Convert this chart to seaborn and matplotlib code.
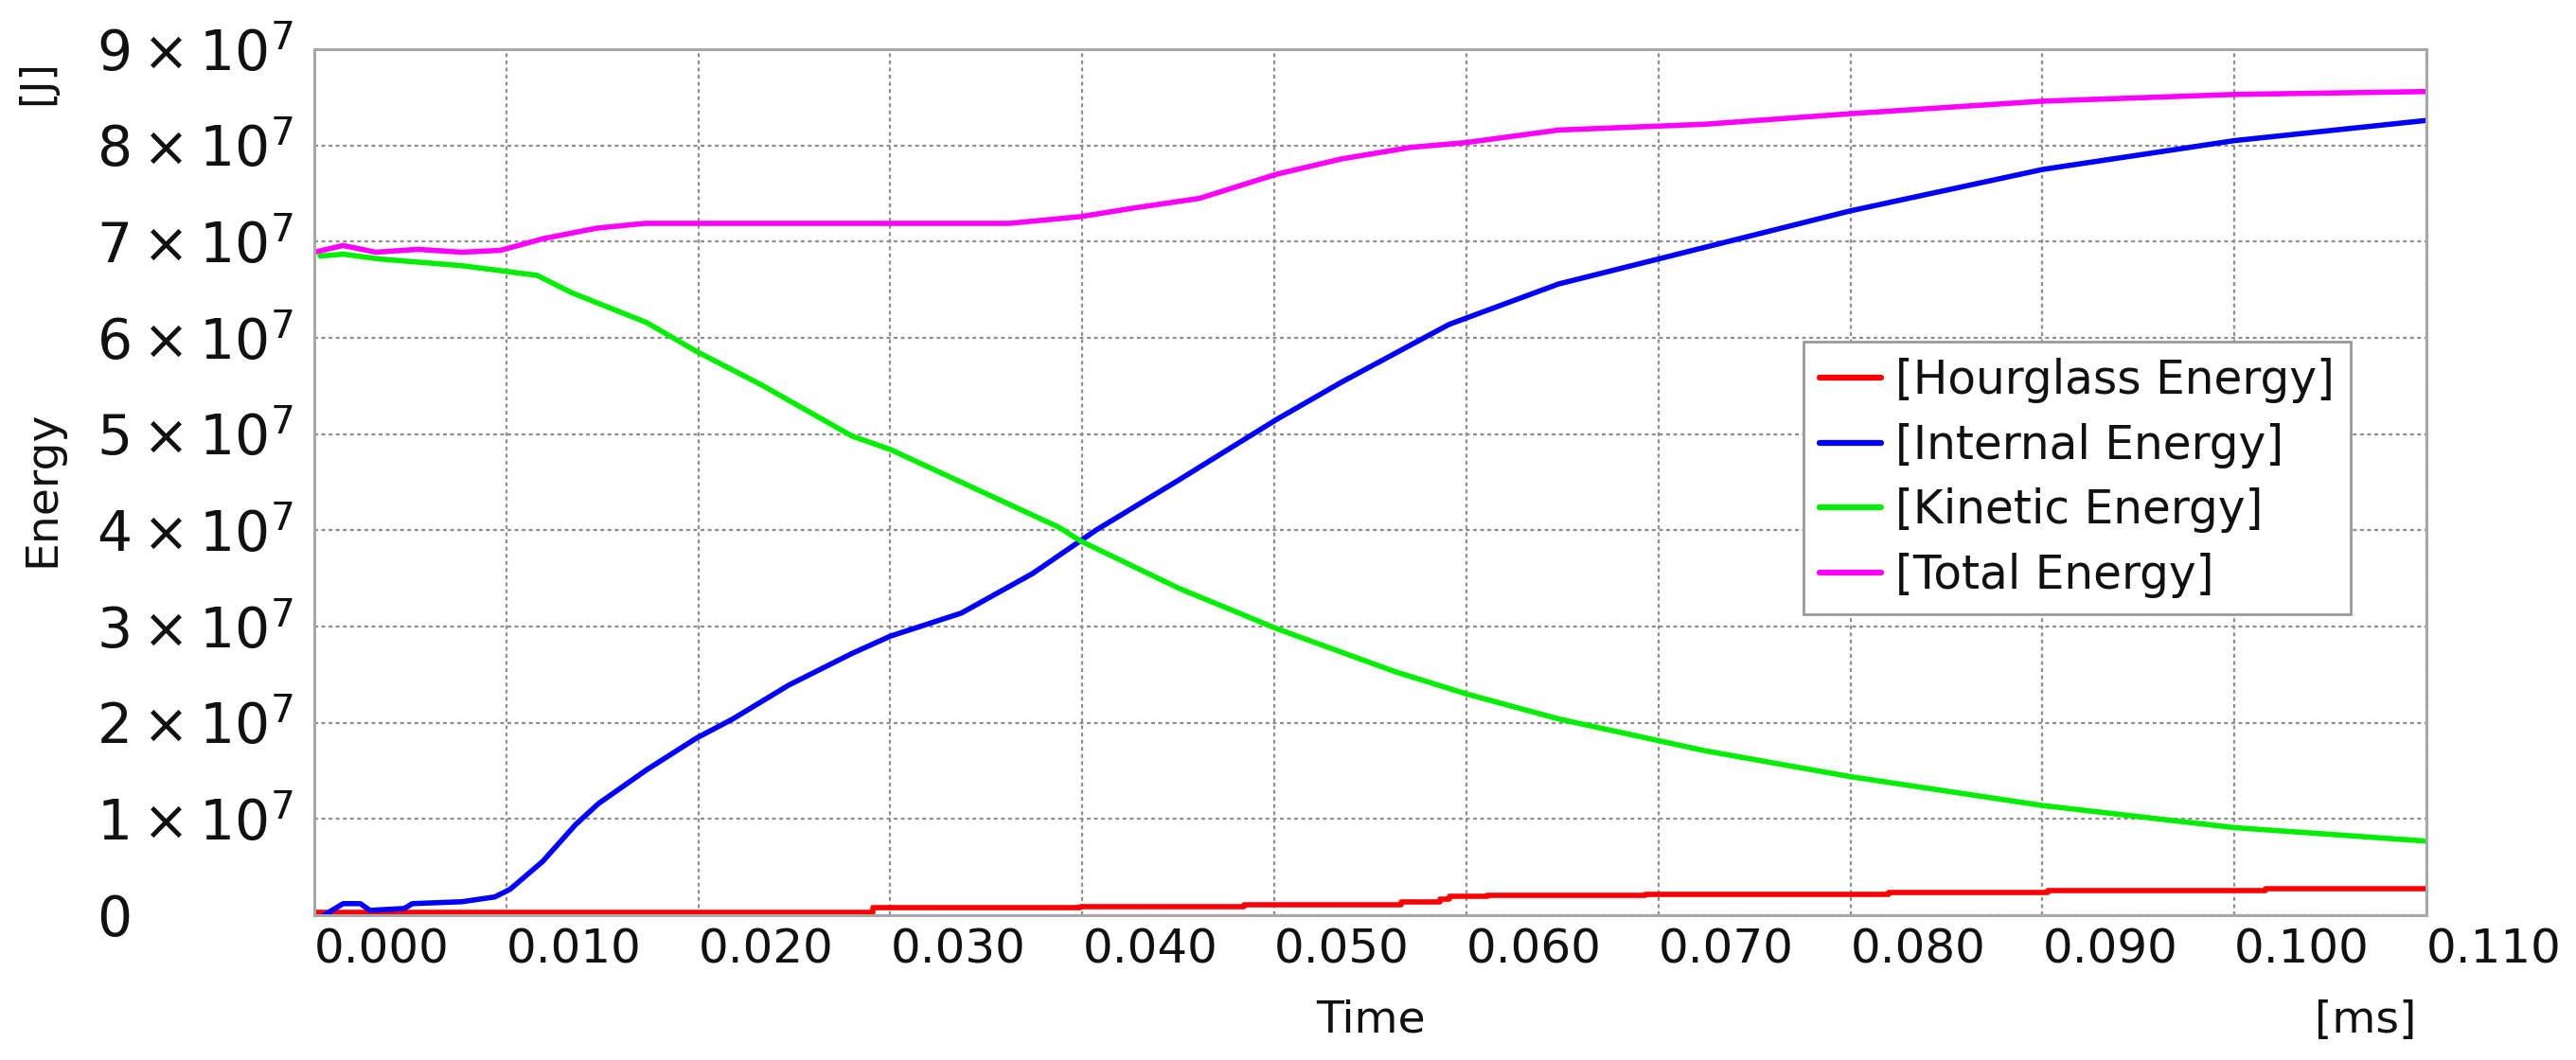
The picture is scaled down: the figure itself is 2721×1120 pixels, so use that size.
import matplotlib
matplotlib.use("Agg")
import matplotlib.pyplot as plt
import seaborn as sns
import pandas as pd

# ---------------- data (time in ms, energy in J) ----------------
t_hourglass = [0.0, 0.0291, 0.0399, 0.0484, 0.0566, 0.0586, 0.0591, 0.0611,
               0.0693, 0.0820, 0.0903, 0.1016, 0.110]
e_hourglass = [0.033e7, 0.076e7, 0.093e7, 0.11e7, 0.14e7, 0.17e7, 0.20e7, 0.21e7,
               0.22e7, 0.24e7, 0.26e7, 0.28e7, 0.28e7]

t_internal = [0.0005, 0.0015, 0.0024, 0.0029, 0.0047, 0.0051, 0.0077, 0.0094,
              0.0102, 0.0119, 0.0136, 0.0148, 0.0173, 0.0199, 0.0218, 0.0247,
              0.0280, 0.0300, 0.0337, 0.0374, 0.0407, 0.0450, 0.0501, 0.0535,
              0.0591, 0.0648, 0.0724, 0.0800, 0.0900, 0.1000, 0.1100]
e_internal = [0.0, 0.12e7, 0.12e7, 0.05e7, 0.07e7, 0.12e7, 0.14e7, 0.19e7,
              0.27e7, 0.56e7, 0.94e7, 1.16e7, 1.51e7, 1.84e7, 2.04e7, 2.39e7,
              2.72e7, 2.90e7, 3.14e7, 3.55e7, 4.00e7, 4.52e7, 5.15e7, 5.54e7,
              6.14e7, 6.56e7, 6.94e7, 7.32e7, 7.75e7, 8.05e7, 8.26e7]

t_kinetic = [0.0003, 0.0015, 0.0034, 0.0077, 0.0108, 0.0116, 0.0134, 0.0173,
             0.0199, 0.0233, 0.0280, 0.0300, 0.0388, 0.0399, 0.0450, 0.0501,
             0.0563, 0.0600, 0.0648, 0.0724, 0.0800, 0.0900, 0.1000, 0.1100]
e_kinetic = [6.85e7, 6.87e7, 6.82e7, 6.75e7, 6.67e7, 6.65e7, 6.47e7, 6.16e7,
             5.86e7, 5.51e7, 4.98e7, 4.84e7, 4.03e7, 3.89e7, 3.40e7, 2.98e7,
             2.53e7, 2.30e7, 2.04e7, 1.71e7, 1.44e7, 1.14e7, 0.91e7, 0.77e7]

t_total = [0.0, 0.0015, 0.0032, 0.0054, 0.0077, 0.0097, 0.0119, 0.0147,
           0.0172, 0.0280, 0.0362, 0.0399, 0.0427, 0.0461, 0.0501, 0.0535,
           0.0571, 0.0600, 0.0648, 0.0724, 0.0800, 0.0900, 0.1000, 0.1100]
e_total = [6.89e7, 6.96e7, 6.89e7, 6.92e7, 6.89e7, 6.91e7, 7.03e7, 7.14e7,
           7.19e7, 7.19e7, 7.19e7, 7.26e7, 7.35e7, 7.45e7, 7.70e7, 7.86e7,
           7.98e7, 8.03e7, 8.16e7, 8.22e7, 8.33e7, 8.46e7, 8.53e7, 8.56e7]

series_names = ["[Hourglass Energy]", "[Internal Energy]",
                "[Kinetic Energy]", "[Total Energy]"]
series_colors = ["#ff0000", "#0000ff", "#00ee00", "#ff00ff"]

x_ticks = [0.000, 0.010, 0.020, 0.030, 0.040, 0.050, 0.060, 0.070,
           0.080, 0.090, 0.100, 0.110]
x_tick_labels = ["0.000", "0.010", "0.020", "0.030", "0.040", "0.050",
                 "0.060", "0.070", "0.080", "0.090", "0.100", "0.110"]
y_ticks = [0, 1e7, 2e7, 3e7, 4e7, 5e7, 6e7, 7e7, 8e7, 9e7]
y_tick_labels = ["0"] + [r"$%d \times 10^{7}$" % k for k in range(1, 10)]

# ---------------- style ----------------
sns.set_style("white")
plt.rcParams["font.family"] = ["DejaVu Sans"]
plt.rcParams["mathtext.fontset"] = "dejavusans"
plt.rcParams["mathtext.default"] = "regular"

W, H = 2721, 1120
fig = plt.figure(figsize=(W / 100, H / 100), dpi=100)
L, R, B, T = 332, 2563, 967, 52
ax = fig.add_axes([L / W, 1 - B / H, (R - L) / W, (B - T) / H])

series = [
    (t_hourglass, e_hourglass, "steps-post"),
    (t_internal, e_internal, "default"),
    (t_kinetic, e_kinetic, "default"),
    (t_total, e_total, "default"),
]
for (tt, ee, ds), name, col in zip(series, series_names, series_colors):
    df = pd.DataFrame({"Time": tt, "Energy": ee})
    sns.lineplot(data=df, x="Time", y="Energy", ax=ax, color=col,
                 linewidth=4.0, label=name, drawstyle=ds, estimator=None,
                 sort=False)

ax.set_xlim(0, 0.110)
ax.set_ylim(0, 9e7)

ax.set_xticks(x_ticks)
ax.set_xticklabels(x_tick_labels)
ax.set_yticks(y_ticks)
ax.set_yticklabels(y_tick_labels)
ax.tick_params(axis="x", length=0, pad=9, labelsize=36, labelcolor="#111111")
ax.tick_params(axis="y", length=0, pad=165.6, labelsize=42, labelcolor="#111111")
for lab in ax.get_xticklabels():
    lab.set_ha("left")
for lab in ax.get_yticklabels():
    lab.set_ha("left")

ax.grid(True, color="#8e8e8e", linestyle=(0, (1.8, 1.6)), linewidth=1.6)
for sp in ax.spines.values():
    sp.set_color("#a8a8a8")
    sp.set_linewidth(2.2)

ax.set_xlabel("Time", fontsize=34, color="#111111")
ax.xaxis.set_label_coords(0.5, -0.097)
ax.set_ylabel("Energy", fontsize=34, color="#111111")
ax.yaxis.set_label_coords((67 - L) / (R - L), 0.493)

ax.text((39 - L) / (R - L), (B - 87) / (B - T), "[J]", rotation=90,
        transform=ax.transAxes, ha="center", va="center",
        rotation_mode="anchor", fontsize=32, color="#111111")
fig.text(2552 / W, 1 - 1078 / H, "[ms]", ha="right", va="center",
         fontsize=34, color="#111111")

leg = ax.legend(loc="upper left", bbox_to_anchor=(0.705, 0.662),
                fontsize=35, frameon=True, fancybox=False, framealpha=1,
                edgecolor="#999999", handlelength=1.35, handletextpad=0.3,
                labelspacing=0.42, borderpad=0.35, borderaxespad=0)
leg.get_frame().set_linewidth(2.0)
for ln in leg.get_lines():
    ln.set_linewidth(4.5)
for txt in leg.get_texts():
    txt.set_color("#111111")

fig.savefig("out.png", dpi=100)
